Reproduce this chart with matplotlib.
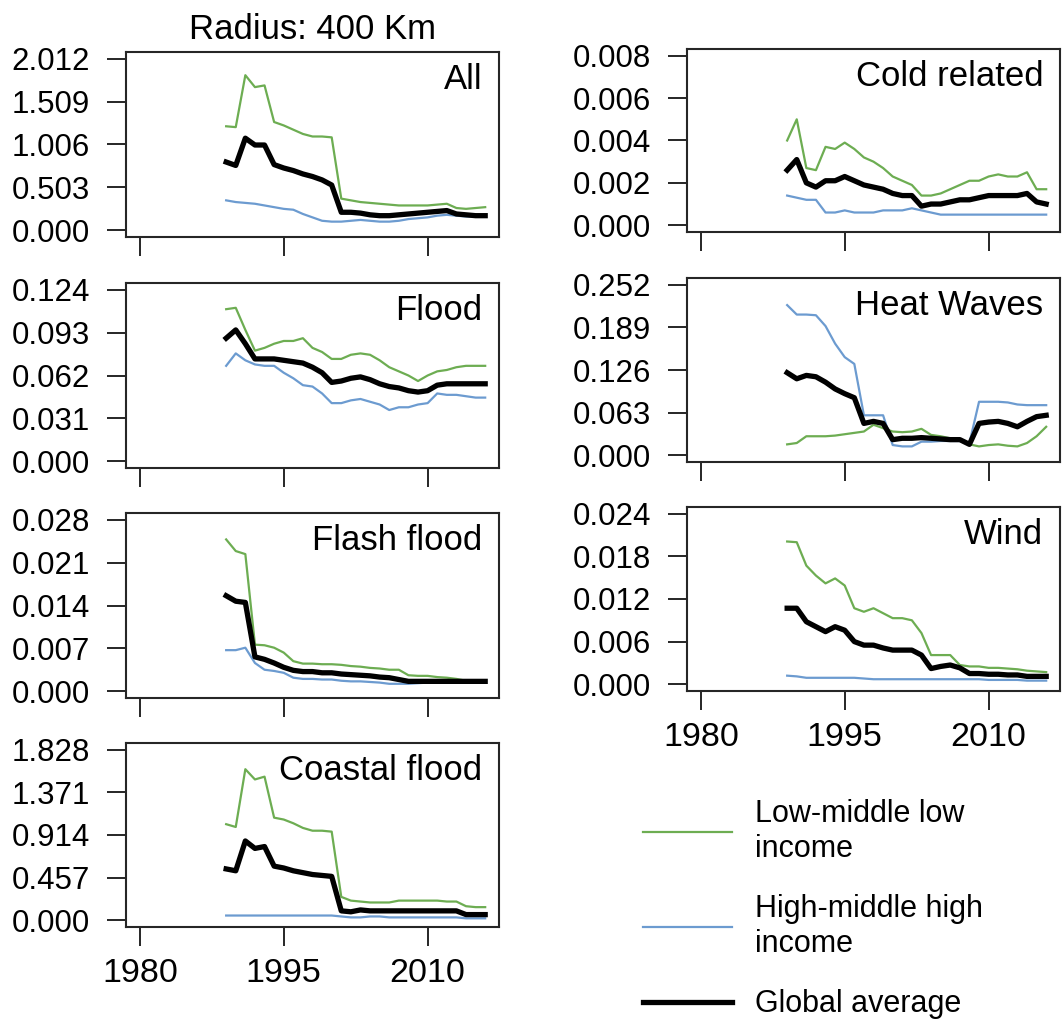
import numpy as np
import matplotlib
matplotlib.use("Agg")
import matplotlib.pyplot as plt


# ==============================
# Data
# ==============================

years = np.arange(1989, 2017)

panel_names = ["All", "Flood", "Flash flood", "Coastal flood",
               "Cold related", "Heat Waves", "Wind"]

# top tick value of each panel's y axis
panel_max = [2.012, 0.124, 0.028, 1.828, 0.008, 0.252, 0.024]

all_low = [1.22, 1.21, 1.82, 1.68, 1.70, 1.27, 1.23, 1.18, 1.13, 1.10, 1.10, 1.09, 0.37, 0.35,
           0.33, 0.32, 0.31, 0.30, 0.29, 0.29, 0.29, 0.29, 0.30, 0.31, 0.26, 0.25, 0.26, 0.27]
all_high = [0.35, 0.33, 0.32, 0.31, 0.29, 0.27, 0.25, 0.24, 0.19, 0.15, 0.11, 0.10, 0.10, 0.11,
            0.12, 0.11, 0.10, 0.10, 0.11, 0.13, 0.14, 0.15, 0.17, 0.18, 0.17, 0.16, 0.16, 0.16]
all_glob = [0.80, 0.76, 1.08, 1.00, 1.00, 0.77, 0.73, 0.70, 0.66, 0.63, 0.59, 0.53, 0.21, 0.21,
            0.20, 0.18, 0.17, 0.17, 0.18, 0.19, 0.20, 0.21, 0.22, 0.23, 0.19, 0.18, 0.17, 0.17]

flood_low = [0.110, 0.111, 0.095, 0.080, 0.082, 0.085, 0.087, 0.087, 0.089, 0.082, 0.079, 0.074,
             0.074, 0.077, 0.078, 0.077, 0.073, 0.068, 0.065, 0.062, 0.058, 0.062, 0.065, 0.066,
             0.068, 0.069, 0.069, 0.069]
flood_high = [0.069, 0.078, 0.073, 0.070, 0.069, 0.069, 0.064, 0.060, 0.055, 0.054, 0.049, 0.042,
              0.042, 0.044, 0.045, 0.043, 0.041, 0.037, 0.039, 0.039, 0.041, 0.042, 0.049, 0.048,
              0.048, 0.047, 0.046, 0.046]
flood_glob = [0.089, 0.095, 0.085, 0.074, 0.074, 0.074, 0.073, 0.072, 0.071, 0.068, 0.064, 0.057,
              0.058, 0.060, 0.061, 0.059, 0.056, 0.054, 0.053, 0.051, 0.050, 0.051, 0.055, 0.056,
              0.056, 0.056, 0.056, 0.056]

flash_low = [0.0248, 0.0229, 0.0224, 0.0076, 0.0075, 0.0071, 0.0063, 0.0049, 0.0045, 0.0045,
             0.0044, 0.0044, 0.0043, 0.0041, 0.0040, 0.0038, 0.0037, 0.0035, 0.0035, 0.0026,
             0.0025, 0.0025, 0.0023, 0.0022, 0.0020, 0.0017, 0.0016, 0.0016]
flash_high = [0.0067, 0.0067, 0.0071, 0.0046, 0.0035, 0.0033, 0.0030, 0.0022, 0.0020, 0.0020,
              0.0019, 0.0019, 0.0017, 0.0016, 0.0016, 0.0015, 0.0014, 0.0012, 0.0012, 0.0012,
              0.0013, 0.0014, 0.0014, 0.0014, 0.0014, 0.0014, 0.0014, 0.0014]
flash_glob = [0.0156, 0.0147, 0.0145, 0.0056, 0.0052, 0.0046, 0.0039, 0.0034, 0.0032, 0.0032,
              0.0030, 0.0030, 0.0028, 0.0027, 0.0026, 0.0025, 0.0023, 0.0022, 0.0019, 0.0016,
              0.0016, 0.0016, 0.0016, 0.0016, 0.0016, 0.0016, 0.0016, 0.0016]

coast_low = [1.03, 1.00, 1.62, 1.51, 1.54, 1.10, 1.08, 1.04, 0.99, 0.96, 0.96, 0.95, 0.25, 0.21,
             0.20, 0.19, 0.19, 0.19, 0.21, 0.21, 0.21, 0.21, 0.21, 0.20, 0.20, 0.15, 0.14, 0.14]
coast_high = [0.05, 0.05, 0.05, 0.05, 0.05, 0.05, 0.05, 0.05, 0.05, 0.05, 0.05, 0.05, 0.04, 0.03,
              0.03, 0.04, 0.04, 0.03, 0.03, 0.03, 0.03, 0.03, 0.03, 0.03, 0.03, 0.02, 0.02, 0.02]
coast_glob = [0.55, 0.53, 0.85, 0.77, 0.79, 0.58, 0.56, 0.53, 0.51, 0.49, 0.48, 0.47, 0.10, 0.09,
              0.11, 0.10, 0.10, 0.10, 0.10, 0.10, 0.10, 0.10, 0.10, 0.10, 0.10, 0.06, 0.06, 0.06]

cold_low = [0.0040, 0.0050, 0.0027, 0.0026, 0.0037, 0.0036, 0.0039, 0.0036, 0.0032, 0.0030,
            0.0027, 0.0023, 0.0021, 0.0019, 0.0014, 0.0014, 0.0015, 0.0017, 0.0019, 0.0021,
            0.0021, 0.0023, 0.0024, 0.0023, 0.0023, 0.0025, 0.0017, 0.0017]
cold_high = [0.0014, 0.0013, 0.0012, 0.0012, 0.0006, 0.0006, 0.0007, 0.0006, 0.0006, 0.0006,
             0.0007, 0.0007, 0.0007, 0.0008, 0.0007, 0.0006, 0.0005, 0.0005, 0.0005, 0.0005,
             0.0005, 0.0005, 0.0005, 0.0005, 0.0005, 0.0005, 0.0005, 0.0005]
cold_glob = [0.0026, 0.0031, 0.0020, 0.0018, 0.0021, 0.0021, 0.0023, 0.0021, 0.0019, 0.0018,
             0.0017, 0.0015, 0.0014, 0.0014, 0.0009, 0.0010, 0.0010, 0.0011, 0.0012, 0.0012,
             0.0013, 0.0014, 0.0014, 0.0014, 0.0014, 0.0015, 0.0011, 0.0010]

heat_low = [0.016, 0.018, 0.028, 0.028, 0.028, 0.029, 0.031, 0.033, 0.035, 0.045, 0.040, 0.035,
            0.034, 0.035, 0.039, 0.030, 0.028, 0.025, 0.023, 0.016, 0.013, 0.015, 0.016, 0.014,
            0.013, 0.018, 0.028, 0.042]
heat_high = [0.222, 0.208, 0.208, 0.207, 0.191, 0.165, 0.145, 0.135, 0.059, 0.059, 0.059, 0.015,
             0.013, 0.013, 0.020, 0.020, 0.021, 0.021, 0.021, 0.018, 0.079, 0.079, 0.079, 0.078,
             0.075, 0.074, 0.074, 0.074]
heat_glob = [0.122, 0.113, 0.118, 0.116, 0.108, 0.098, 0.091, 0.085, 0.047, 0.050, 0.047, 0.023,
             0.025, 0.025, 0.026, 0.025, 0.024, 0.023, 0.023, 0.016, 0.047, 0.049, 0.050, 0.047,
             0.042, 0.050, 0.057, 0.059]

wind_low = [0.0201, 0.0200, 0.0167, 0.0153, 0.0142, 0.0149, 0.0139, 0.0107, 0.0102, 0.0107,
            0.0100, 0.0093, 0.0093, 0.0090, 0.0072, 0.0041, 0.0041, 0.0041, 0.0027, 0.0025,
            0.0025, 0.0023, 0.0023, 0.0022, 0.0021, 0.0019, 0.0018, 0.0017]
wind_high = [0.0012, 0.0011, 0.0009, 0.0009, 0.0009, 0.0009, 0.0009, 0.0009, 0.0008, 0.0007,
             0.0007, 0.0007, 0.0007, 0.0007, 0.0007, 0.0007, 0.0007, 0.0007, 0.0007, 0.0007,
             0.0007, 0.0006, 0.0006, 0.0006, 0.0006, 0.0005, 0.0005, 0.0005]
wind_glob = [0.0107, 0.0107, 0.0088, 0.0081, 0.0074, 0.0081, 0.0076, 0.0060, 0.0055, 0.0055,
             0.0051, 0.0048, 0.0048, 0.0048, 0.0041, 0.0022, 0.0025, 0.0027, 0.0023, 0.0015,
             0.0015, 0.0014, 0.0014, 0.0013, 0.0013, 0.0011, 0.0011, 0.0011]

low_series = [all_low, flood_low, flash_low, coast_low, cold_low, heat_low, wind_low]
high_series = [all_high, flood_high, flash_high, coast_high, cold_high, heat_high, wind_high]
glob_series = [all_glob, flood_glob, flash_glob, coast_glob, cold_glob, heat_glob, wind_glob]

x_ticks = [1980, 1995, 2010]

legend_labels = ["Low-middle low\nincome", "High-middle high\nincome", "Global average"]


# ==============================
# Style
# ==============================

plt.rcParams["font.family"] = ["Liberation Sans", "DejaVu Sans"]

GREEN = "#6dad52"
BLUE = "#6c9bd0"
BLACK = "#000000"
EDGE = "#262626"

fig = plt.figure(figsize=(10.62, 10.19), dpi=100)

W = 1062.0
H = 1019.0

# axes boxes in pixels: (left, top, right, bottom)
boxes = [
    (126, 52, 499, 237),
    (126, 283, 499, 468),
    (126, 513, 499, 698),
    (126, 743, 499, 927),
    (687, 49, 1060, 232),
    (687, 278, 1060, 462),
    (687, 507, 1060, 691),
]

bottom_panels = [3, 6]

x_lo, x_hi = 1980, 2016
x_pad = 0.04 * (x_hi - x_lo)

axes = []
lines = None

for i, name in enumerate(panel_names):

    l, t, r, b = boxes[i]
    ax = fig.add_axes([l / W, 1 - b / H, (r - l) / W, (b - t) / H])

    ln_low, = ax.plot(years, low_series[i], color=GREEN, lw=1.6)
    ln_high, = ax.plot(years, high_series[i], color=BLUE, lw=1.6)
    ln_glob, = ax.plot(years, glob_series[i], color=BLACK, lw=3.8)
    lines = [ln_low, ln_high, ln_glob]

    m = panel_max[i]
    ax.set_ylim(-0.04 * m, 1.04 * m)
    ax.set_xlim(x_lo - x_pad, x_hi + x_pad)

    yt = np.linspace(0, m, 5)
    ax.set_yticks(yt)
    ax.set_yticklabels(["%.3f" % v for v in yt])

    ax.set_xticks(x_ticks)
    if i in bottom_panels:
        ax.set_xticklabels([str(v) for v in x_ticks])
    else:
        ax.set_xticklabels([])

    ax.tick_params(axis="y", direction="out", length=14, width=1.4,
                   labelsize=22.5, pad=12, color=EDGE)
    ax.tick_params(axis="x", direction="out", length=14, width=1.4,
                   labelsize=24.5, pad=8, color=EDGE)

    for s in ax.spines.values():
        s.set_linewidth(1.5)
        s.set_color(EDGE)

    ax.text(0.955, 0.85, name, transform=ax.transAxes,
            ha="right", va="center", fontsize=25)

    axes.append(ax)


# ==============================
# Title and legend
# ==============================

axes[0].set_title("Radius: 400 Km", fontsize=25, pad=9)

fig.legend(
    lines,
    legend_labels,
    loc="upper left",
    bbox_to_anchor=(643 / W, 1 - 799 / H),
    frameon=False,
    fontsize=22,
    handlelength=2.9,
    handletextpad=0.75,
    labelspacing=1.0,
    borderpad=0,
    borderaxespad=0,
)

plt.savefig("out.png", dpi=100)
plt.close()
